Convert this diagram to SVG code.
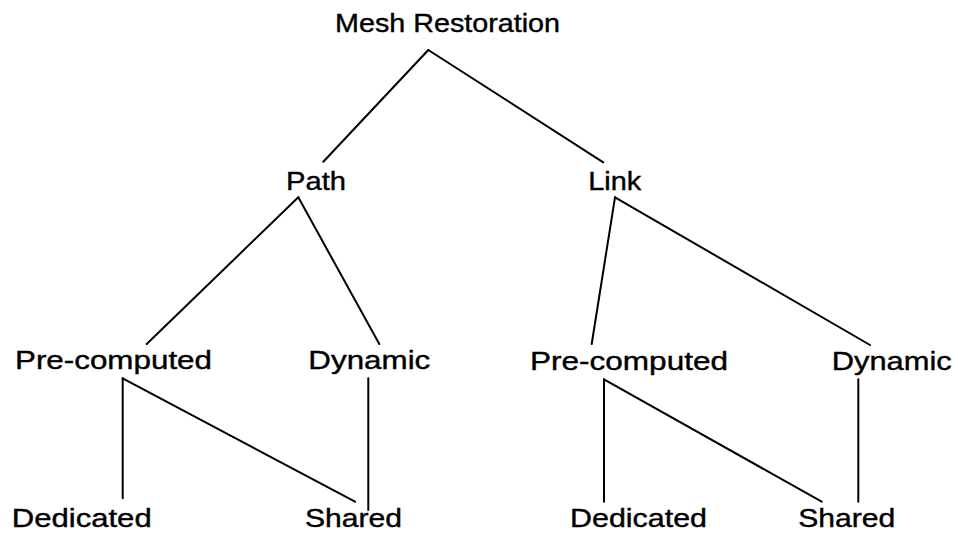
<svg xmlns="http://www.w3.org/2000/svg" width="958" height="534" viewBox="0 0 958 534">
<style>
text { font-family: "Liberation Sans", Arial, sans-serif; font-size: 26px; fill: #000; stroke: #000; stroke-width: 0.4; }
.c line { stroke: #000; stroke-width: 2; stroke-linecap: round; }
</style>
<rect width="958" height="534" fill="#fff"/>
<g class="c" id="connectors">
<line x1="428.3" y1="50" x2="323.3" y2="161.7"/>
<line x1="428.3" y1="50" x2="603.3" y2="162.3"/>
<line x1="298.3" y1="197.3" x2="146.7" y2="344"/>
<line x1="298.3" y1="197.3" x2="379.3" y2="344"/>
<line x1="615" y1="197.3" x2="591.7" y2="344"/>
<line x1="615" y1="197.3" x2="870" y2="345"/>
<line x1="122.7" y1="378.3" x2="122.7" y2="498.3"/>
<line x1="122.7" y1="378.3" x2="355" y2="501.7"/>
<line x1="368.3" y1="378.3" x2="368.3" y2="510"/>
<line x1="604" y1="379.3" x2="604" y2="501.7"/>
<line x1="604" y1="379.3" x2="821.7" y2="501.7"/>
<line x1="858.3" y1="379.3" x2="858.3" y2="501.7"/>
</g>
<g id="mesh"><text x="335" y="31.7" textLength="225" lengthAdjust="spacingAndGlyphs">Mesh Restoration</text></g>
<g id="path"><text x="286" y="189.5" textLength="60" lengthAdjust="spacingAndGlyphs">Path</text></g>
<g id="link"><text x="588.3" y="189.5" textLength="53" lengthAdjust="spacingAndGlyphs">Link</text></g>
<g id="pre-left"><text x="15" y="368.5" textLength="197" lengthAdjust="spacingAndGlyphs">Pre-computed</text></g>
<g id="dyn-left"><text x="308.3" y="368.5" textLength="122" lengthAdjust="spacingAndGlyphs">Dynamic</text></g>
<g id="pre-right"><text x="530" y="369.5" textLength="198" lengthAdjust="spacingAndGlyphs">Pre-computed</text></g>
<g id="dyn-right"><text x="831.7" y="369.5" textLength="120" lengthAdjust="spacingAndGlyphs">Dynamic</text></g>
<g id="ded-left"><text x="11.7" y="527" textLength="140" lengthAdjust="spacingAndGlyphs">Dedicated</text></g>
<g id="sh-left"><text x="305" y="527" textLength="97" lengthAdjust="spacingAndGlyphs">Shared</text></g>
<g id="ded-right"><text x="570" y="527" textLength="137" lengthAdjust="spacingAndGlyphs">Dedicated</text></g>
<g id="sh-right"><text x="798.3" y="527" textLength="97" lengthAdjust="spacingAndGlyphs">Shared</text></g>
</svg>
